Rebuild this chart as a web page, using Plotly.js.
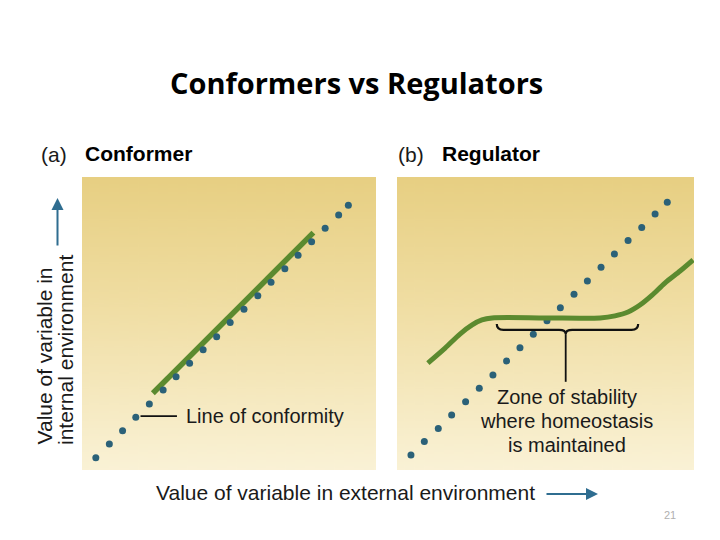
<!DOCTYPE html>
<html>
<head>
<meta charset="utf-8">
<script src="https://cdn.plot.ly/plotly-3.0.1.min.js"></script>
<style>html,body{margin:0;padding:0;background:#fff;}#chart{width:720px;height:540px;}</style>
</head>
<body>
<div id="chart"></div>
<script>
// ---- Data (both axes 0–100, unitless) ----
const conformerDotsX = [4.7, 9.3, 13.8, 18.3, 22.9, 27.6, 32.0, 36.6, 41.2, 45.8, 50.4, 55.1, 59.8, 64.3, 69.0, 73.5, 78.1, 82.7, 87.3, 90.6];
const conformerDotsY = [4.2, 8.9, 13.4, 18.0, 22.5, 27.3, 31.8, 36.4, 41.0, 45.5, 50.3, 54.9, 59.5, 64.1, 68.7, 73.3, 77.9, 82.5, 87.0, 90.4];
const conformerLineX = [24.1, 78.7];
const conformerLineY = [26.2, 81.0];

const regulatorDotsX = [4.7, 9.2, 13.9, 18.4, 23.1, 27.7, 32.3, 36.9, 41.4, 45.9, 50.5, 55.0, 59.6, 64.1, 68.7, 73.2, 77.8, 82.4, 86.9, 91.0];
const regulatorDotsY = [5.1, 9.7, 14.2, 18.8, 23.3, 27.9, 32.4, 37.2, 41.7, 46.3, 50.9, 55.4, 60.0, 64.5, 69.2, 73.7, 78.3, 82.8, 87.4, 91.4];
const regulatorCurveX = [10.4, 16.2, 21.2, 25.3, 28.6, 32.0, 50.0, 68.4, 73.4, 77.8, 81.8, 85.9, 90.2, 95.3, 99.7];
const regulatorCurveY = [36.5, 41.6, 46.4, 49.5, 51.2, 51.9, 51.9, 51.9, 52.6, 53.9, 56.3, 59.7, 63.8, 67.9, 71.7];

// zone of stability (bracket span on the regulator x axis)
const zoneStart = 33.6, zoneEnd = 81.2, zoneLevel = 47.8;

const titleText = "Conformers vs Regulators";
const xLabel = "Value of variable in external environment";
const yLabelLines = ["Value of variable in", "internal environment"];

// ---- helpers ----
const W = 720, H = 540;
const px = x => x / W;
const py = y => 1 - y / H;

function gradientURL() {
  const c = document.createElement('canvas');
  c.width = 60; c.height = 300;
  const g = c.getContext('2d');
  const gr = g.createLinearGradient(0, 0, 0, 300);
  gr.addColorStop(0, '#e7cf82');
  gr.addColorStop(0.45, '#f0dea4');
  gr.addColorStop(1, '#faf2d6');
  g.fillStyle = gr; g.fillRect(0, 0, 60, 300);
  return c.toDataURL('image/png');
}
const bg = gradientURL();

const dotColor = '#2b6178';
const green = '#5b8a2f';
const textFont = {family: 'Liberation Sans, Arial, sans-serif', size: 20, color: '#1a1a1a'};
const arrowBlue = '#2f6d90';

const traces = [
  {x: conformerLineX, y: conformerLineY, xaxis: 'x', yaxis: 'y', mode: 'lines',
   line: {color: green, width: 5.5}, hoverinfo: 'skip'},
  {x: conformerDotsX, y: conformerDotsY, xaxis: 'x', yaxis: 'y', mode: 'markers',
   marker: {color: dotColor, size: 7}, hoverinfo: 'skip'},
  {x: regulatorDotsX, y: regulatorDotsY, xaxis: 'x2', yaxis: 'y2', mode: 'markers',
   marker: {color: dotColor, size: 7}, hoverinfo: 'skip'},
  {x: regulatorCurveX, y: regulatorCurveY, xaxis: 'x2', yaxis: 'y2', mode: 'lines',
   line: {color: green, width: 5, shape: 'spline', smoothing: 0.8}, hoverinfo: 'skip'}
];

const zc = (zoneStart + zoneEnd) / 2 - 0.6;
const bracePath =
  `M ${zoneStart},${zoneLevel + 2.0} Q ${zoneStart},${zoneLevel} ${zoneStart + 2.2},${zoneLevel} ` +
  `L ${zc - 2.2},${zoneLevel} Q ${zc},${zoneLevel} ${zc},${zoneLevel - 1.4} ` +
  `Q ${zc},${zoneLevel} ${zc + 2.2},${zoneLevel} L ${zoneEnd - 2.2},${zoneLevel} ` +
  `Q ${zoneEnd},${zoneLevel} ${zoneEnd},${zoneLevel + 2.0}`;

const hiddenAxis = {range: [0, 100], visible: false, fixedrange: true};

const layout = {
  width: W, height: H,
  margin: {l: 0, r: 0, t: 0, b: 0},
  paper_bgcolor: '#ffffff',
  plot_bgcolor: 'rgba(0,0,0,0)',
  showlegend: false,
  xaxis: Object.assign({domain: [px(82), px(376)], anchor: 'y'}, hiddenAxis),
  yaxis: Object.assign({domain: [py(470), py(177)], anchor: 'x'}, hiddenAxis),
  xaxis2: Object.assign({domain: [px(397), px(694)], anchor: 'y2'}, hiddenAxis),
  yaxis2: Object.assign({domain: [py(470), py(177)], anchor: 'x2'}, hiddenAxis),
  images: [
    {source: bg, xref: 'x', yref: 'y', x: 0, y: 100, sizex: 100, sizey: 100, sizing: 'stretch', layer: 'below'},
    {source: bg, xref: 'x2', yref: 'y2', x: 0, y: 100, sizex: 100, sizey: 100, sizing: 'stretch', layer: 'below'}
  ],
  shapes: [
    {type: 'path', xref: 'x2', yref: 'y2', path: bracePath, line: {color: '#111', width: 2.2}},
    {type: 'line', xref: 'x2', yref: 'y2', x0: zc, x1: zc, y0: zoneLevel - 1.4, y1: 30.1, line: {color: '#111', width: 1.8}},
    {type: 'line', xref: 'x', yref: 'y', x0: 19.9, x1: 32.3, y0: 18.4, y1: 18.4, line: {color: '#111', width: 1.6}}
  ],
  annotations: [
    {text: `<b>${titleText}</b>`, xref: 'paper', yref: 'paper', x: px(356), y: py(82),
     xanchor: 'center', yanchor: 'middle', showarrow: false,
     font: {family: 'Open Sans, sans-serif', size: 29, color: '#000'}},
    {text: '(a)', xref: 'paper', yref: 'paper', x: px(39), y: py(154), xanchor: 'left', yanchor: 'middle',
     showarrow: false, font: Object.assign({}, textFont, {size: 21})},
    {text: '<b>Conformer</b>', xref: 'paper', yref: 'paper', x: px(83), y: py(153), xanchor: 'left', yanchor: 'middle',
     showarrow: false, font: Object.assign({}, textFont, {size: 21, color: '#000'})},
    {text: '(b)', xref: 'paper', yref: 'paper', x: px(396), y: py(154), xanchor: 'left', yanchor: 'middle',
     showarrow: false, font: Object.assign({}, textFont, {size: 21})},
    {text: '<b>Regulator</b>', xref: 'paper', yref: 'paper', x: px(440), y: py(153), xanchor: 'left', yanchor: 'middle',
     showarrow: false, font: Object.assign({}, textFont, {size: 21, color: '#000'})},
    {text: 'Line of conformity', xref: 'x', yref: 'y', x: 34.6, y: 18.6, xanchor: 'left', yanchor: 'middle',
     showarrow: false, font: textFont},
    {text: 'Zone of stability', xref: 'x2', yref: 'y2', x: 57.1, y: (470 - 397) / 2.93, xanchor: 'center', yanchor: 'middle',
     showarrow: false, font: textFont},
    {text: 'where homeostasis', xref: 'x2', yref: 'y2', x: 57.1, y: (470 - 421) / 2.93, xanchor: 'center', yanchor: 'middle',
     showarrow: false, font: textFont},
    {text: 'is maintained', xref: 'x2', yref: 'y2', x: 57.1, y: (470 - 445) / 2.93, xanchor: 'center', yanchor: 'middle',
     showarrow: false, font: textFont},
    {text: xLabel, xref: 'paper', yref: 'paper', x: px(154), y: py(492), xanchor: 'left', yanchor: 'middle',
     showarrow: false, font: Object.assign({}, textFont, {size: 21})},
    {text: yLabelLines[0], xref: 'paper', yref: 'paper', x: px(44), y: py(447), xanchor: 'center', yanchor: 'bottom',
     textangle: -90, showarrow: false, font: Object.assign({}, textFont, {size: 21})},
    {text: yLabelLines[1], xref: 'paper', yref: 'paper', x: px(66), y: py(447), xanchor: 'center', yanchor: 'bottom',
     textangle: -90, showarrow: false, font: Object.assign({}, textFont, {size: 21})},
    {text: '', xref: 'paper', yref: 'paper', x: px(57.5), y: py(198), ax: 0, ay: 49,
     showarrow: true, arrowhead: 2, arrowsize: 1.2, arrowwidth: 2, arrowcolor: arrowBlue},
    {text: '', xref: 'paper', yref: 'paper', x: px(598), y: py(494), ax: -53, ay: 0,
     showarrow: true, arrowhead: 2, arrowsize: 1.2, arrowwidth: 2, arrowcolor: arrowBlue},
    {text: '21', xref: 'paper', yref: 'paper', x: px(670), y: py(515), xanchor: 'center', yanchor: 'middle',
     showarrow: false, font: {family: 'Liberation Sans, Arial, sans-serif', size: 11, color: '#b0b0b0'}}
  ]
};

Plotly.newPlot('chart', traces, layout, {staticPlot: true, displayModeBar: false});
</script>
</body>
</html>
